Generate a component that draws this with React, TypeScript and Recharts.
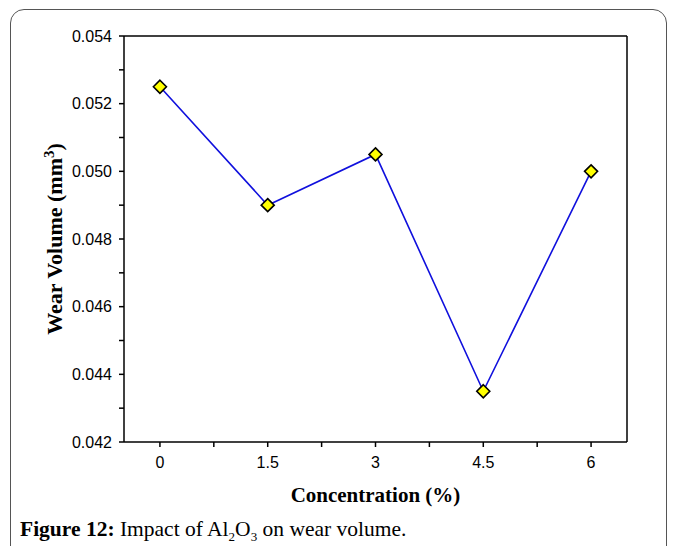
import React from "react";
import { LineChart, Line, XAxis, YAxis } from "recharts";

const concentrations = [0, 1.5, 3, 4.5, 6];
const wearVolume = [0.0525, 0.049, 0.0505, 0.0435, 0.05];
const xTicks = [0, 0.75, 1.5, 2.25, 3, 3.75, 4.5, 5.25, 6];
const xMajor = [0, 1.5, 3, 4.5, 6];
const yTicks = [0.042, 0.043, 0.044, 0.045, 0.046, 0.047, 0.048, 0.049, 0.05, 0.051, 0.052, 0.053, 0.054];
const yMajor = [0.042, 0.044, 0.046, 0.048, 0.05, 0.052, 0.054];

const data = concentrations.map((c, i) => ({ c, v: wearVolume[i] }));

const near = (arr: number[], v: number) => arr.some((a) => Math.abs(a - v) < 1e-9);

const Diamond = (props: any) => {
  const { cx, cy } = props;
  if (cx == null || cy == null) return null;
  const r = 6.5;
  return (
    <path
      d={`M${cx},${cy - r} L${cx + r},${cy} L${cx},${cy + r} L${cx - r},${cy} Z`}
      fill="#ffff00"
      stroke="#000"
      strokeWidth={1.6}
    />
  );
};

const tickFont = { fontFamily: "'Liberation Sans', Arial, sans-serif", fontSize: 16, fill: "#000" };
const titleFont = "'Liberation Serif', 'Times New Roman', serif";
const titleStyle = { fontFamily: titleFont, fontWeight: "bold" as const, fontSize: 22, fill: "#000" };

export default function App() {
  return (
    <div style={{ position: "absolute", left: 0, top: 0, width: 673, height: 546, overflow: "hidden", background: "#fff" }}>
      <div
        style={{
          position: "absolute",
          left: 10,
          top: 9,
          width: 657,
          height: 580,
          border: "1.5px solid #555",
          borderRadius: 14,
          boxSizing: "border-box",
        }}
      />
      <div style={{ position: "absolute", left: 0, top: 0 }}>
        <LineChart width={673} height={546} data={data} margin={{ top: 35, right: 45, bottom: 0, left: 0 }}>
          <XAxis
            xAxisId="top"
            orientation="top"
            dataKey="c"
            type="number"
            domain={[-0.5, 6.5]}
            height={1}
            tick={false}
            tickLine={false}
            axisLine={{ stroke: "#000", strokeWidth: 1.5 }}
          />
          <YAxis
            yAxisId="right"
            orientation="right"
            type="number"
            domain={[0.042, 0.054]}
            width={1}
            tick={false}
            tickLine={false}
            axisLine={{ stroke: "#000", strokeWidth: 1.5 }}
          />
          <XAxis
            dataKey="c"
            type="number"
            domain={[-0.5, 6.5]}
            ticks={xTicks}
            interval={0}
            height={104}
            tickSize={5}
            tickMargin={10}
            tick={tickFont}
            tickFormatter={(v: number) => (near(xMajor, v) ? String(v) : "")}
            axisLine={{ stroke: "#000", strokeWidth: 1.5 }}
            tickLine={{ stroke: "#000", strokeWidth: 1.5 }}
            label={(p: any) => {
              const vb = p.viewBox || {};
              const cx = (vb.x ?? 124) + (vb.width ?? 503) / 2;
              const by = (vb.y ?? 442) + 60;
              return (
                <text x={cx} y={by} textAnchor="middle" style={{ ...titleStyle, fontSize: 21 }}>
                  Concentration (%)
                </text>
              );
            }}
          />
          <YAxis
            type="number"
            domain={[0.042, 0.054]}
            ticks={yTicks}
            interval={0}
            width={124}
            tickSize={5}
            tickMargin={7}
            tick={tickFont}
            tickFormatter={(v: number) => (near(yMajor, v) ? v.toFixed(3) : "")}
            axisLine={{ stroke: "#000", strokeWidth: 1.5 }}
            tickLine={{ stroke: "#000", strokeWidth: 1.5 }}
            label={(p: any) => {
              const vb = p.viewBox || {};
              const cy = (vb.y ?? 36) + (vb.height ?? 406) / 2;
              const bx = (vb.x ?? 0) + 62;
              return (
                <text
                  x={0}
                  y={0}
                  transform={`translate(${bx}, ${cy}) rotate(-90)`}
                  textAnchor="middle"
                  style={titleStyle}
                >
                  Wear Volume (mm
                  <tspan dy={-8} fontSize={15}>3</tspan>
                  <tspan dy={8}>)</tspan>
                </text>
              );
            }}
          />
          <Line
            dataKey="v"
            stroke="#1010dd"
            strokeWidth={1.6}
            dot={<Diamond />}
            activeDot={false}
            isAnimationActive={false}
          />
        </LineChart>
      </div>
      <div
        style={{
          position: "absolute",
          left: 20,
          top: 519,
          fontFamily: titleFont,
          fontSize: 21.5,
          lineHeight: "21px",
          color: "#000",
          whiteSpace: "nowrap",
        }}
      >
        <b>Figure 12:</b> Impact of Al<sub style={{ fontSize: 13, lineHeight: 0 }}>2</sub>O
        <sub style={{ fontSize: 13, lineHeight: 0 }}>3</sub> on wear volume.
      </div>
    </div>
  );
}
